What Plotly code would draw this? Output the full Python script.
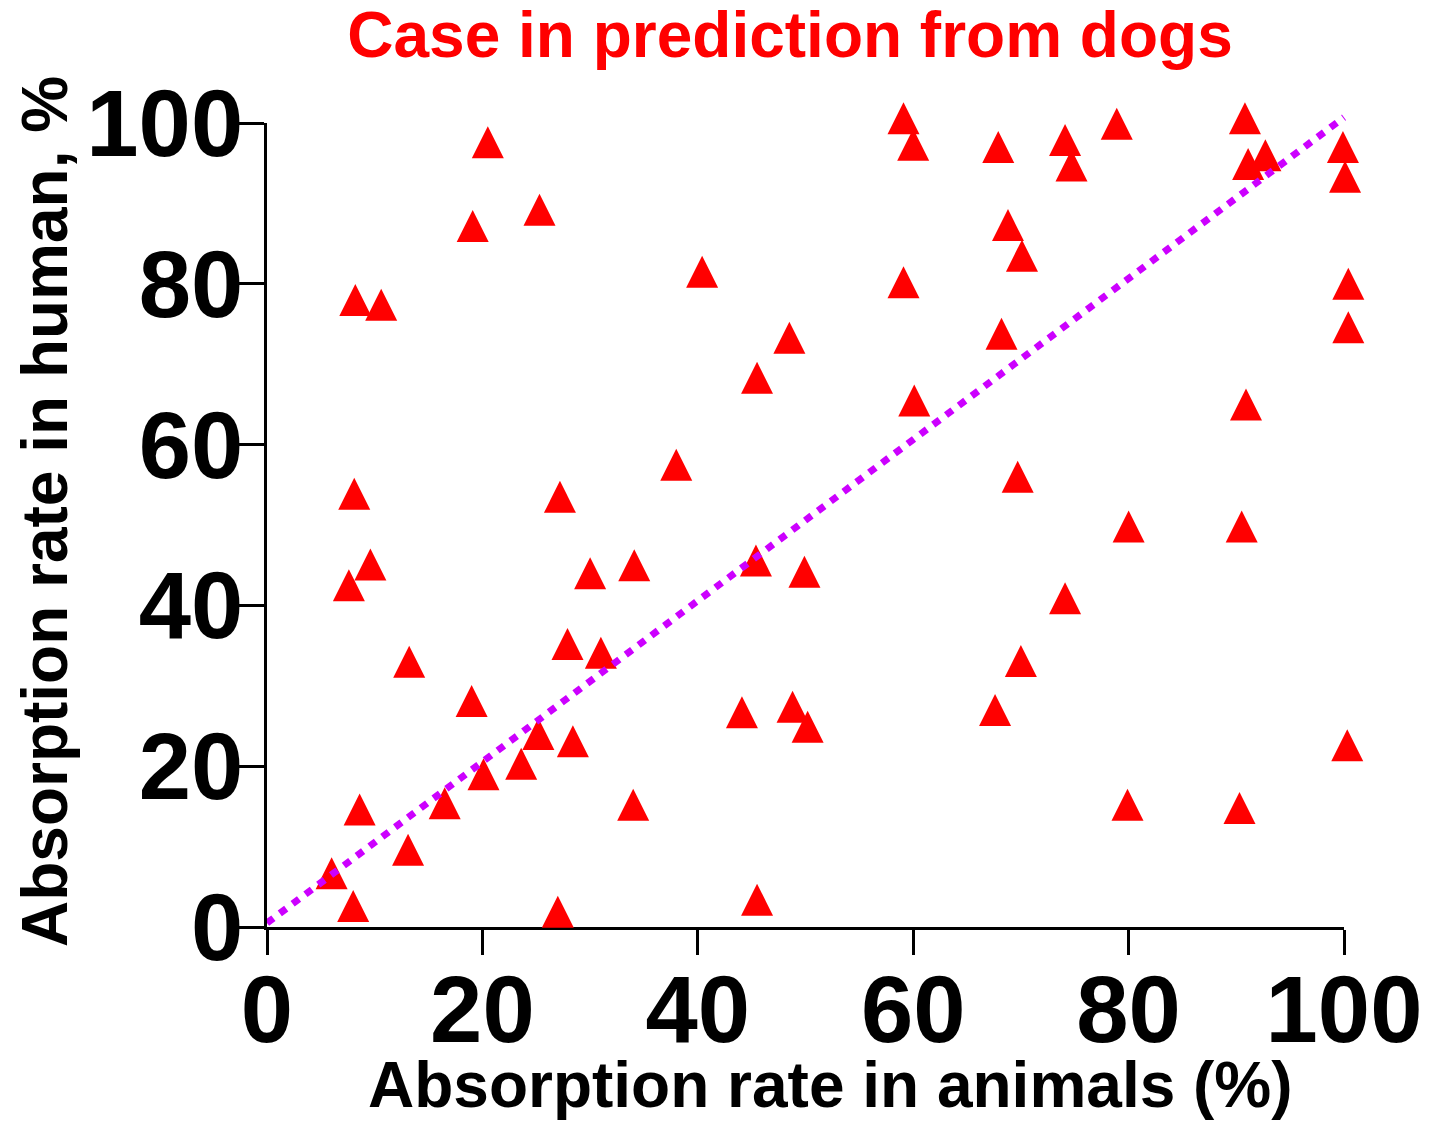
import plotly.graph_objects as go

# Absorption rate in animals (x) vs. human (y), one triangle per compound
animal_pct = [6.0, 8.0, 8.6, 7.6, 8.1, 9.6, 8.2, 10.6, 13.2, 13.1,
              16.5, 19.0, 19.1, 20.5, 20.1, 23.6, 25.2, 25.3, 27.2, 27.0,
              27.9, 28.4, 30.0, 31.0, 34.1, 34.0, 38.0, 40.4, 44.1, 45.5,
              45.4, 45.5, 48.5, 48.8, 49.9, 50.2, 59.1, 59.1, 60.0, 60.1,
              67.9, 67.6, 68.2, 68.8, 70.1, 69.7, 70.0, 74.1, 74.7, 74.1,
              78.9, 80.0, 79.9, 90.8, 91.1, 92.7, 90.9, 90.5, 90.3, 99.9,
              100.1, 100.4, 100.4, 100.3]
human_pct = [6.7, 2.6, 14.6, 42.5, 53.9, 45.1, 78.0, 77.4, 33.0, 9.6,
             15.4, 28.1, 87.2, 97.6, 19.0, 20.3, 24.0, 89.2, 53.5, 1.9,
             35.2, 23.1, 44.0, 34.1, 45.0, 15.2, 57.5, 81.5, 26.7, 68.3,
             45.6, 3.4, 73.3, 27.4, 44.2, 24.9, 100.6, 80.2, 97.3, 65.5,
             97.0, 27.0, 73.8, 87.3, 83.5, 56.0, 33.1, 97.9, 94.7, 40.9,
             99.9, 49.8, 15.2, 100.6, 94.9, 96.0, 65.0, 49.8, 14.8, 97.0,
             93.3, 80.0, 74.6, 22.6]

# Line of identity
identity_x = [0, 100]
identity_y = [0.5, 100.7]

tick_vals = [0, 20, 40, 60, 80, 100]
tick_text = ["0", "20", "40", "60", "80", "100"]

FONT = "Liberation Sans, Arial, sans-serif"
MARKER_SIZE = 32

# Page geometry (px)
W, H = 1441, 1121
L, R, T, B = 267, 47, 73, 194
plot_w = W - L - R
plot_h = H - T - B
axis_w = 1077   # length of the 0..100 x axis
axis_h = 804    # length of the 0..100 y axis
x_dom = axis_w / plot_w
y_dom = axis_h / plot_h

fig = go.Figure()

# Frame subplot carrying the visible axes (0..100)
fig.add_trace(go.Scatter(x=[], y=[], xaxis="x", yaxis="y", showlegend=False))

# Data subplot: same scale, a little headroom so points just past 100 stay visible
fig.add_trace(go.Scatter(
    x=animal_pct, y=human_pct,
    xaxis="x2", yaxis="y2",
    mode="markers",
    cliponaxis=False,
    marker=dict(symbol="arrow-down", angle=180, standoff=MARKER_SIZE / 2,
                size=MARKER_SIZE, color="#FF0000", line=dict(width=0)),
    showlegend=False,
))

fig.add_trace(go.Scatter(
    x=identity_x, y=identity_y,
    xaxis="x2", yaxis="y2",
    mode="lines",
    cliponaxis=False,
    line=dict(color="#CC00FF", width=7, dash="8px,8px"),
    showlegend=False,
))

axis_common = dict(
    range=[0, 100],
    tickmode="array", tickvals=tick_vals, ticktext=tick_text,
    showline=True, linecolor="black", linewidth=3,
    ticks="outside", ticklen=25, tickwidth=3, tickcolor="black",
    showgrid=False, zeroline=False, automargin=False,
    tickfont=dict(family=FONT, size=94, color="black", weight="bold"),
)

fig.update_layout(
    width=W, height=H,
    margin=dict(l=L, r=R, t=T, b=B, autoexpand=False),
    paper_bgcolor="white", plot_bgcolor="rgba(0,0,0,0)",
    title=dict(
        text="Case in prediction from dogs",
        font=dict(family=FONT, size=64, color="#FF0000", weight="bold"),
        x=(790 - L) / plot_w, xref="paper", xanchor="center",
        y=1 - 12 / H, yref="container", yanchor="top", automargin=False,
    ),
    xaxis=dict(**axis_common, domain=[0, x_dom], anchor="y", ticklabelstandoff=-26),
    yaxis=dict(**axis_common, domain=[0, y_dom], anchor="x", ticklabelstandoff=-23),
    xaxis2=dict(domain=[0, 1], range=[0, 100 / x_dom], anchor="y2",
                visible=False, automargin=False),
    yaxis2=dict(domain=[0, 1], range=[0, 100 / y_dom], anchor="x2",
                visible=False, automargin=False),
    annotations=[
        dict(text="Absorption rate in animals (%)", showarrow=False,
             xref="paper", yref="paper",
             x=(830 - L) / plot_w, y=-(1085 - (H - B)) / plot_h,
             xanchor="center", yanchor="middle",
             font=dict(family=FONT, size=64, color="black", weight="bold")),
        dict(text="Absorption rate in human, %", showarrow=False,
             xref="paper", yref="paper",
             x=(45 - L) / plot_w, y=((H - B) - 512) / plot_h,
             xanchor="center", yanchor="middle", textangle=-90,
             font=dict(family=FONT, size=64, color="black", weight="bold")),
    ],
)

fig.write_html("out.html")
